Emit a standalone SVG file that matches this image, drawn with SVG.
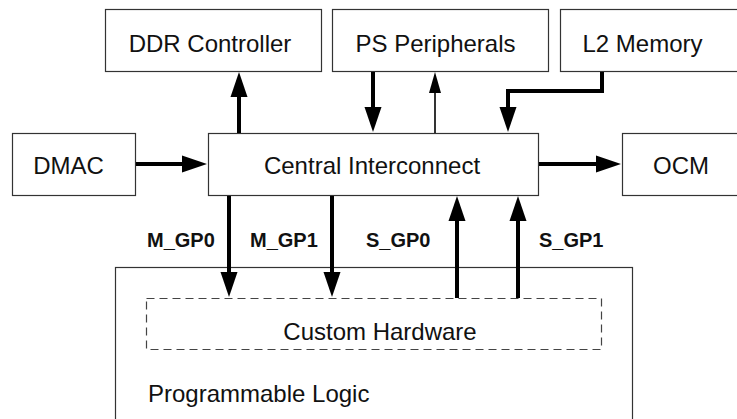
<svg xmlns="http://www.w3.org/2000/svg" width="737" height="419" viewBox="0 0 737 419">
  <style>
    .box { fill: #fff; stroke: #333; stroke-width: 1.2; }
    .dash { fill: none; stroke: #444; stroke-width: 1.2; stroke-dasharray: 8 5; }
    .lbl { font-family: "Liberation Sans", Arial, sans-serif; font-size: 24px; fill: #111; }
    .bus { font-family: "Liberation Sans", Arial, sans-serif; font-size: 20px; font-weight: bold; fill: #111; }
    .thick { fill: none; stroke: #000; stroke-width: 4; }
    .thin { fill: none; stroke: #000; stroke-width: 1.6; }
    .head { fill: #000; }
  </style>

  <!-- Programmable logic region with custom hardware -->
  <g id="programmable-logic">
    <rect class="box" x="115.5" y="267.5" width="517" height="160"/>
    <text class="lbl" x="148" y="402">Programmable Logic</text>
  </g>
  <g id="custom-hardware">
    <rect class="dash" x="146.5" y="298.5" width="455" height="51"/>
    <text class="lbl" x="380" y="340" text-anchor="middle">Custom Hardware</text>
  </g>

  <g id="ddr-controller">
    <rect class="box" x="105.5" y="9.5" width="216" height="62"/>
    <text class="lbl" x="210" y="52" text-anchor="middle">DDR Controller</text>
  </g>
  <g id="ps-peripherals">
    <rect class="box" x="332.5" y="9.5" width="216" height="62"/>
    <text class="lbl" x="435.5" y="52" text-anchor="middle">PS Peripherals</text>
  </g>
  <g id="l2-memory">
    <rect class="box" x="560.5" y="9.5" width="200" height="62"/>
    <text class="lbl" x="642.5" y="52" text-anchor="middle">L2 Memory</text>
  </g>
  <g id="dmac">
    <rect class="box" x="12.5" y="133.5" width="123" height="62"/>
    <text class="lbl" x="68.5" y="174" text-anchor="middle">DMAC</text>
  </g>
  <g id="central-interconnect">
    <rect class="box" x="208.5" y="133.5" width="330" height="62"/>
    <text class="lbl" x="372" y="174" text-anchor="middle">Central Interconnect</text>
  </g>
  <g id="ocm">
    <rect class="box" x="622.5" y="133.5" width="140" height="62"/>
    <text class="lbl" x="681" y="174" text-anchor="middle">OCM</text>
  </g>

  <g id="connectors">
    <!-- Interconnect to DDR controller -->
    <path class="thick" d="M239 133 V94"/>
    <polygon class="head" points="239,72 230.5,97 247.5,97"/>
    <!-- PS peripherals to interconnect -->
    <path class="thick" d="M373 72 V110"/>
    <polygon class="head" points="373,132 364.5,107 381.5,107"/>
    <!-- Interconnect to PS peripherals -->
    <path class="thin" d="M435 133 V90"/>
    <polygon class="head" points="435,72 429,93 441,93"/>
    <!-- L2 memory to interconnect -->
    <path class="thick" d="M602 72 V91 H508 V110"/>
    <polygon class="head" points="508,132 499.5,107 516.5,107"/>
    <!-- DMAC to interconnect -->
    <path class="thick" d="M136 164 H186"/>
    <polygon class="head" points="207,164 182,155.5 182,172.5"/>
    <!-- Interconnect to OCM -->
    <path class="thick" d="M539 164 H600"/>
    <polygon class="head" points="621,164 596,155.5 596,172.5"/>
    <!-- Master ports into programmable logic -->
    <path class="thick" d="M229 196 V276"/>
    <polygon class="head" points="229,297 220.5,272 237.5,272"/>
    <path class="thick" d="M332 196 V276"/>
    <polygon class="head" points="332,297 323.5,272 340.5,272"/>
    <!-- Slave ports from programmable logic -->
    <path class="thick" d="M457 298 V217"/>
    <polygon class="head" points="457,196 448.5,221 465.5,221"/>
    <path class="thick" d="M518 298 V217"/>
    <polygon class="head" points="518,196 509.5,221 526.5,221"/>
  </g>

  <g id="port-labels">
    <text class="bus" x="147" y="247">M_GP0</text>
    <text class="bus" x="250" y="247">M_GP1</text>
    <text class="bus" x="366" y="247">S_GP0</text>
    <text class="bus" x="539" y="247">S_GP1</text>
  </g>
</svg>
